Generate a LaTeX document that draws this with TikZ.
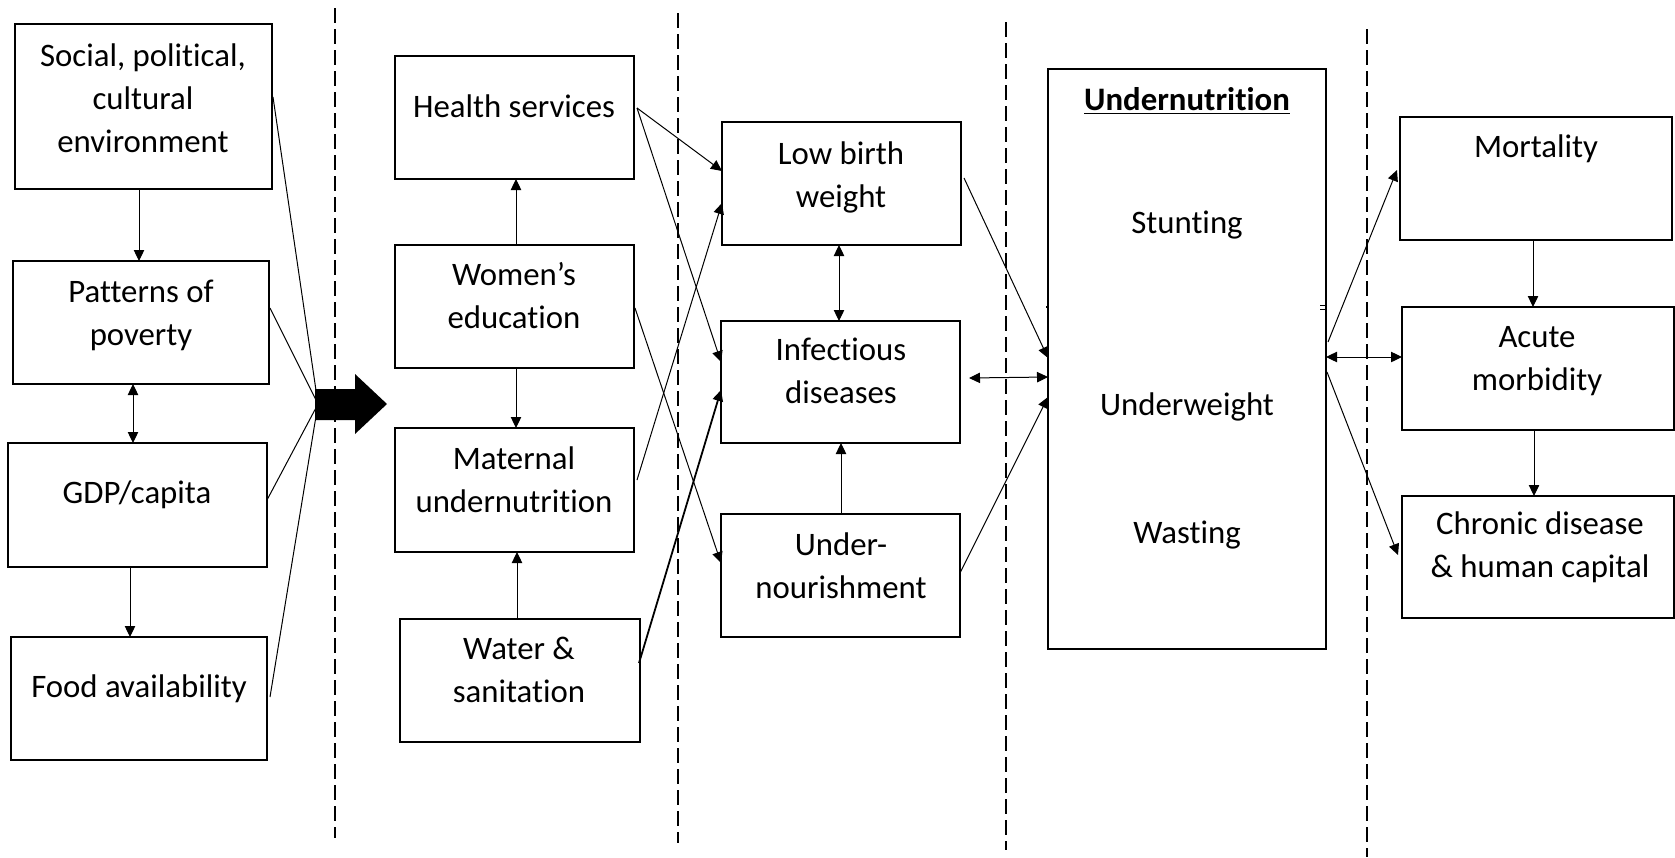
\documentclass[tikz,border=0pt]{standalone}
\usepackage{fontspec}
\setmainfont{Carlito}[Ligatures=CommonOff]
\usetikzlibrary{arrows.meta,calc}

% a rectangle given by its corners (left, top, right, bottom) in px
\newcommand\pxbox[5]{%
  \node[box, minimum width={(#4-#2)*0.5pt}, minimum height={(#5-#3)*0.5pt}]
    (#1) at ({(#2+#4)/2},{(#3+#5)/2}) {};}

\begin{document}
\begin{tikzpicture}[x=0.5pt,y=-0.5pt,
  box/.style={draw, line width=0.75pt, inner sep=0pt, outer sep=0pt},
  % text nodes are placed by the baseline of their last line
  txt/.style={font=\fontsize{16.4pt}{21.5pt}\selectfont, align=center, inner sep=0pt, anchor=base},
  link/.style={line width=0.5pt},
  arr/.style={link, -{Triangle[length=5.5pt,width=5.2pt]}},
  barr/.style={link, {Triangle[length=5.5pt,width=5.2pt]}-{Triangle[length=5.5pt,width=5.2pt]}},
  divider/.style={line width=0.75pt, dash pattern=on 7.5pt off 3pt}]

\useasboundingbox (0,0) rectangle (1675,857);

% column dividers
\draw[divider] (335,8) -- (335,838);
\draw[divider] (678,13) -- (678,843);
\draw[divider] (1006,22) -- (1006,850);
\draw[divider] (1367,29) -- (1367,857);

% basic causes
\pxbox{soc}{15}{24}{272}{189}
\pxbox{pov}{13}{261}{269}{384}
\pxbox{gdp}{8}{443}{267}{567}
\pxbox{food}{11}{637}{267}{760}
\node[txt] at (143,152) {Social, political,\\cultural\\environment};
\node[txt] at (141,345) {Patterns of\\poverty};
\node[txt] at (137,503) {GDP/capita};
\node[txt] at (139,697) {Food availability};

% underlying causes
\pxbox{hs}{395}{56}{634}{179}
\pxbox{we}{395}{245}{634}{368}
\pxbox{mat}{395}{428}{634}{552}
\pxbox{ws}{400}{619}{640}{742}
\node[txt] at (514,117) {Health services};
\node[txt] at (514,328) {Women’s\\education};
\node[txt] at (514,512) {Maternal\\undernutrition};
\node[txt] at (519,702) {Water \&\\sanitation};

% immediate causes
\pxbox{lbw}{722}{122}{961}{245}
\pxbox{inf}{721}{321}{960}{443}
\pxbox{uno}{721}{514}{960}{637}
\node[txt] at (841,207) {Low birth\\weight};
\node[txt] at (841,403) {Infectious\\diseases};
\node[txt] at (841,598) {Under-\\nourishment};

% undernutrition
\pxbox{und}{1048}{69}{1326}{649}
\node[txt] at (1187,110) {\underline{\textbf{Undernutrition}}};
\node[txt] at (1187,233) {Stunting};
\node[txt] at (1187,415) {Underweight};
\node[txt] at (1187,543) {Wasting};

% consequences
\pxbox{mor}{1400}{117}{1672}{240}
\pxbox{acu}{1402}{307}{1674}{430}
\pxbox{chr}{1402}{496}{1674}{618}
\node[txt] at (1536,157) {Mortality};
\node[txt] at (1537,390) {Acute\\morbidity};
\node[txt] at (1540,577) {Chronic disease\\\& human capital};

% links among basic causes
\draw[arr] (soc.south -| 139,0) -- (pov.north -| 139,0);
\draw[barr] (pov.south -| 133,0) -- (gdp.north -| 133,0);
\draw[arr] (gdp.south -| 130,0) -- (food.north -| 130,0);

% basic causes converging on the block arrow
\coordinate (conv) at (318,404);
\draw[link] ($(soc.north east)+(1,73)$) -- (conv);
\draw[link] ($(pov.north east)+(1,47)$) -- (conv);
\draw[link] ($(gdp.north east)+(0,57)$) -- (conv);
\draw[link] ($(food.north east)+(3,60)$) -- (conv);
\fill (315,389) -- (355,389) -- (355,374) -- (387,404) -- (355,434)
      -- (355,420) -- (315,420) -- cycle;

% links among underlying causes
\draw[arr] (we.north -| 516,0) -- (hs.south -| 516,0);
\draw[arr] (we.south -| 516,0) -- (mat.north -| 516,0);
\draw[arr] (ws.north -| 517,0) -- (mat.south -| 517,0);

% underlying to immediate causes
\draw[arr] ($(hs.north east)+(3,52)$) -- ($(lbw.north west)+(0,49)$);
\draw[arr] ($(hs.north east)+(3,52)$) -- ($(inf.north west)+(0,41)$);
\draw[arr] ($(mat.north east)+(3,52)$) -- ($(lbw.north west)+(0,81)$);
\draw[arr] ($(we.north east)+(1,63)$) -- ($(uno.north west)+(0,49)$);
\draw[arr, line width=0.9pt] ($(ws.north east)+(-1,44)$) -- ($(inf.north west)+(0,69)$);

% links among immediate causes
\draw[barr] (lbw.south -| 839,0) -- (inf.north -| 839,0);
\draw[arr] (uno.north -| 841,0) -- (inf.south -| 841,0);

% immediate causes to undernutrition
\draw[arr] ($(lbw.north east)+(3,56)$) -- ($(und.north west)+(0,289)$);
\draw[barr] ($(inf.north east)+(9,57)$) -- ($(und.north west)+(0,308)$);
\draw[arr] ($(uno.north east)+(0,59)$) -- ($(und.north west)+(0,328)$);

% undernutrition to consequences
\draw[arr] ($(und.north east)+(2,273)$) -- ($(mor.north west)+(-3,53)$);
\draw[barr] ($(und.north east)+(0,288)$) -- ($(acu.north west)+(0,50)$);
\draw[arr] ($(und.north east)+(1,303)$) -- ($(chr.north west)+(-4,59)$);
\draw[arr] (mor.south -| 1533,0) -- (acu.north -| 1533,0);
\draw[arr] (acu.south -| 1534,0) -- (chr.north -| 1534,0);

% small ticks on the undernutrition box edges
\draw[line width=0.6pt] ($(und.north west)+(-2,238)$) -- ++(3,0);
\draw[line width=0.5pt] ($(und.north east)+(-6,236)$) -- ++(6,0);
\draw[line width=0.5pt] ($(und.north east)+(-6,240)$) -- ++(6,0);
\end{tikzpicture}
\end{document}
